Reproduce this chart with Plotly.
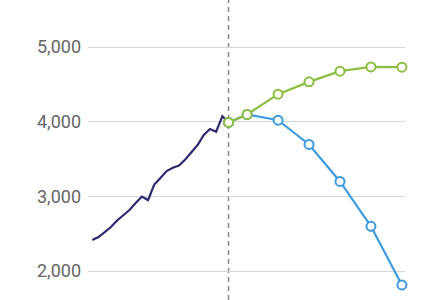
import plotly.graph_objects as go

hist_years = list(range(2000, 2023))
hist_values = [2415, 2455, 2522, 2589, 2676, 2743, 2817, 2910, 2997, 2950,
               3158, 3245, 3338, 3383, 3412, 3493, 3586, 3687, 3821, 3901,
               3865, 4074, 3990]

proj_years = [2022, 2025, 2030, 2035, 2040, 2045, 2050]
high_values = [3990, 4096, 4368, 4533, 4676, 4733, 4730]
low_values = [3990, 4096, 4020, 3695, 3199, 2598, 1813]

y_ticks = [2000, 3000, 4000, 5000]

DARK = "#2e2a70"
GREEN = "#8dbd42"
BLUE = "#3f9be0"

fig = go.Figure()
fig.add_trace(go.Scatter(x=hist_years, y=hist_values, mode="lines",
                         line=dict(color=DARK, width=2.2), cliponaxis=False))
fig.add_trace(go.Scatter(x=proj_years, y=low_values, mode="lines+markers",
                         line=dict(color=BLUE, width=2.2),
                         marker=dict(size=9, color="white", line=dict(color=BLUE, width=2)),
                         cliponaxis=False))
fig.add_trace(go.Scatter(x=proj_years, y=high_values, mode="lines+markers",
                         line=dict(color=GREEN, width=2.2),
                         marker=dict(size=9, color="white", line=dict(color=GREEN, width=2)),
                         cliponaxis=False))

fig.add_shape(type="line", xref="x", yref="paper", x0=2022, x1=2022, y0=0, y1=1,
              line=dict(color="#8a8a8a", width=1.5, dash="5px,4px"), layer="below")

fig.update_layout(
    width=435, height=300,
    margin=dict(l=88, r=30, t=0, b=0),
    paper_bgcolor="white", plot_bgcolor="white",
    showlegend=False,
    font=dict(family="Roboto", size=18, color="#666666"),
)
fig.update_xaxes(range=[1999.3, 2050.5], showgrid=False, zeroline=False,
                 showticklabels=False, showline=False)
fig.update_yaxes(range=[1611.6, 5629.5], tickvals=y_ticks, tickformat=",",
                 showgrid=True, gridcolor="#d6d6d6", gridwidth=1, zeroline=False,
                 showline=False, ticks="", ticklabelstandoff=6)

fig.write_html("out.html")
